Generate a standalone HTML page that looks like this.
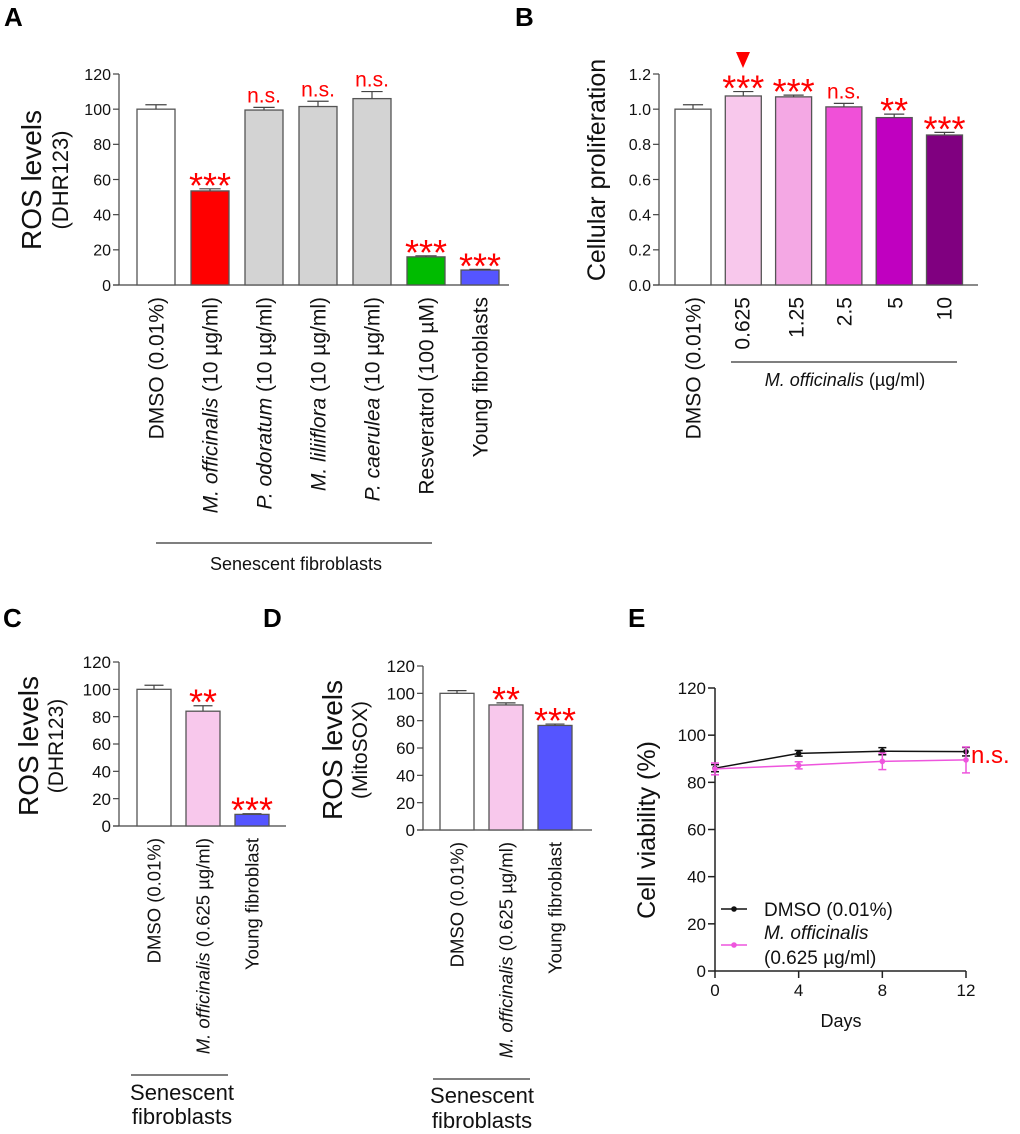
<!DOCTYPE html>
<html><head><meta charset="utf-8">
<style>
html,body{margin:0;padding:0;background:#fff;}
svg{display:block;font-family:"Liberation Sans",Arial,sans-serif;}
</style></head>
<body>
<svg id="fig" width="1020" height="1134" viewBox="0 0 1020 1134">
<g id="root"></g>
</svg>
<script>
// ---------- DATA ----------
const aValues=[100,53.5,99.5,101.5,106,16,8.5];
const aErrors=[2.5,1.2,1.5,3,4,0.6,0.4];
const aColors=["#ffffff","#ff0000","#d3d3d3","#d3d3d3","#d3d3d3","#00bb00","#5555ff"];
const aSig=["","***","n.s.","n.s.","n.s.","***","***"];
const aCats=["DMSO (0.01%)","<i>M. officinalis</i> (10 µg/ml)","<i>P. odoratum</i> (10 µg/ml)","<i>M. liliiflora</i> (10 µg/ml)","<i>P. caerulea</i> (10 µg/ml)","Resveratrol (100 µM)","Young fibroblasts"];
const aTicks=[0,20,40,60,80,100,120];

const bValues=[1.0,1.075,1.07,1.013,0.952,0.853];
const bErrors=[0.025,0.025,0.01,0.02,0.02,0.015];
const bColors=["#ffffff","#f8c8ec","#f4a8e4","#f050d8","#c000c0","#800080"];
const bSig=["","***","***","n.s.","**","***"];
const bCats=["DMSO (0.01%)","0.625","1.25","2.5","5","10"];
const bTicks=[0,0.2,0.4,0.6,0.8,1.0,1.2];

const cValues=[100,84,8.5];
const cErrors=[3,4,0.5];
const cColors=["#ffffff","#f8c8ec","#5555ff"];
const cSig=["","**","***"];
const cCats=["DMSO (0.01%)","<i>M. officinalis</i> (0.625 µg/ml)","Young fibroblast"];

const dValues=[100,91.5,76.5];
const dErrors=[2,1.5,1];
const dColors=["#ffffff","#f8c8ec","#5555ff"];
const dSig=["","**","***"];
const dCats=["DMSO (0.01%)","<i>M. officinalis</i> (0.625 µg/ml)","Young fibroblast"];
const cdTicks=[0,20,40,60,80,100,120];

const eDays=[0,4,8,12];
const eDmso=[86,92.3,93.2,93];
const eDmsoErr=[1.5,1.2,1.5,1.8];
const eMoff=[85.7,87.2,88.9,89.5];
const eMoffErr=[2.5,1.5,3.5,5.5];
const eTicksY=[0,20,40,60,80,100,120];
const eTicksX=[0,4,8,12];

// ---------- HELPERS ----------
const NS="http://www.w3.org/2000/svg";
const root=document.getElementById('root');
function mk(tag,attrs,parent){const e=document.createElementNS(NS,tag);for(const k in attrs)e.setAttribute(k,attrs[k]);(parent||root).appendChild(e);return e;}
function txt(str,attrs,parent){const e=mk('text',attrs,parent);e.innerHTML=str.replace(/<i>/g,'<tspan font-style="italic">').replace(/<\/i>/g,'</tspan>');return e;}

function barChart(o){
  const g=mk('g',{});
  
  
  const y=v=>o.y0-(v-o.ymin)/(o.ymax-o.ymin)*(o.y0-o.ytop);
  const x=i=>o.x1+i*o.step;
  const ya=mk('line',{x1:o.ax,y1:o.y0,x2:o.ax,y2:o.ytop,stroke:'#444','stroke-width':1.2},g);
  
  const xa=mk('line',{x1:o.ax-6,y1:o.y0,x2:o.axEnd,y2:o.y0,stroke:'#444','stroke-width':1.2},g);
  
  o.ticks.forEach(t=>{
    mk('line',{x1:o.ax-6,y1:y(t),x2:o.ax,y2:y(t),stroke:'#444','stroke-width':1.2},g);
    const tl=txt(o.fmt(t),{x:o.ax-8,y:y(t)+o.tickFs*0.36,'text-anchor':'end','font-size':o.tickFs,fill:'#111'},g);
    
  });
  o.values.forEach((v,i)=>{
    const cx=x(i);
    const r=mk('rect',{x:cx-o.bw/2,y:y(v),width:o.bw,height:o.y0-y(v),fill:o.colors[i],stroke:'#555','stroke-width':1.3},g);
    
    const et=y(v+o.errors[i]);
    mk('line',{x1:cx,y1:y(v),x2:cx,y2:et,stroke:'#444','stroke-width':1.2},g);
    mk('line',{x1:cx-o.bw*0.28,y1:et,x2:cx+o.bw*0.28,y2:et,stroke:'#444','stroke-width':1.2},g);
    if(o.sig[i]){
      const isStar=o.sig[i].indexOf('*')>=0;
      const s=txt(o.sig[i],{x:cx,y:isStar?et+9:et-5,'text-anchor':'middle','font-size':isStar?36:o.sigFs,fill:'#ff0000'},g);
      
    }
    const lx=o.labelX?o.labelX[i]:cx;
    const c=txt(o.cats[i],{x:0,y:0,'text-anchor':'end','font-size':o.catFs,fill:'#111',transform:`translate(${lx+o.catFs*0.36},${o.catTop}) rotate(-90)`},g);
    
  });
  return g;
}
function panelLetter(l,x,y){const t=txt(l,{x:x,y:y,'font-size':26,'font-weight':'bold',fill:'#000'});}
function ylab(lines,x,cy,sizes){lines.forEach((s,i)=>{const t=txt(s,{x:0,y:0,'text-anchor':'middle','font-size':sizes[i],fill:'#111',transform:`translate(${x[i]},${cy}) rotate(-90)`});});}

// ---------- PANEL A ----------
panelLetter('A',4,26);
barChart({name:'panel-a-chart',values:aValues,errors:aErrors,colors:aColors,sig:aSig,cats:aCats,ticks:aTicks,fmt:t=>String(t),
  ymin:0,ymax:120,y0:285,ytop:74,ax:119,axEnd:509,x1:156,step:54,bw:38,tickFs:16,sigFs:21,catFs:21,catTop:297});
ylab(['ROS levels','(DHR123)'],[41,68],180,[28,22]);
mk('line',{x1:156,y1:543,x2:432,y2:543,stroke:'#333','stroke-width':1.2});
txt('Senescent fibroblasts',{x:296,y:570,'text-anchor':'middle','font-size':18,fill:'#111'});

// ---------- PANEL B ----------
panelLetter('B',515,26);
barChart({name:'panel-b-chart',values:bValues,errors:bErrors,colors:bColors,sig:bSig,cats:bCats,ticks:bTicks,fmt:t=>t.toFixed(1),
  ymin:0,ymax:1.2,y0:285,ytop:74,ax:659,axEnd:978,x1:693,step:50.3,bw:36,tickFs:16,sigFs:21,catFs:21,catTop:297,labelX:[693,742,796,844,895,944]});
ylab(['Cellular proliferation'],[605],170,[25]);
const tri=mk('polygon',{points:'736,52 750,52 743,68',fill:'#ff0000'});

mk('line',{x1:731,y1:362,x2:957,y2:362,stroke:'#333','stroke-width':1.2});
txt('<i>M. officinalis</i> (µg/ml)',{x:845,y:386,'text-anchor':'middle','font-size':18,fill:'#111'});

// ---------- PANEL C ----------
panelLetter('C',3,627);
barChart({name:'panel-c-chart',values:cValues,errors:cErrors,colors:cColors,sig:cSig,cats:cCats,ticks:cdTicks,fmt:t=>String(t),
  ymin:0,ymax:120,y0:826,ytop:662,ax:119,axEnd:286,x1:154,step:49,bw:34,tickFs:17,sigFs:21,catFs:18.5,catTop:838});
ylab(['ROS levels','(DHR123)'],[38,63],746,[28,21]);
mk('line',{x1:131,y1:1075,x2:228,y2:1075,stroke:'#333','stroke-width':1.2});
txt('Senescent',{x:182,y:1100,'text-anchor':'middle','font-size':22,fill:'#111'});
txt('fibroblasts',{x:182,y:1124,'text-anchor':'middle','font-size':22,fill:'#111'});

// ---------- PANEL D ----------
panelLetter('D',263,627);
barChart({name:'panel-d-chart',values:dValues,errors:dErrors,colors:dColors,sig:dSig,cats:dCats,ticks:cdTicks,fmt:t=>String(t),
  ymin:0,ymax:120,y0:830,ytop:666,ax:423,axEnd:592,x1:457,step:49,bw:34,tickFs:17,sigFs:21,catFs:18.5,catTop:842});
ylab(['ROS levels','(MitoSOX)'],[342,367],750,[28,21]);
mk('line',{x1:433,y1:1079,x2:530,y2:1079,stroke:'#333','stroke-width':1.2});
txt('Senescent',{x:482,y:1103,'text-anchor':'middle','font-size':22,fill:'#111'});
txt('fibroblasts',{x:482,y:1128,'text-anchor':'middle','font-size':22,fill:'#111'});

// ---------- PANEL E ----------
panelLetter('E',628,627);
(function(){
  const g=mk('g',{});
  
  
  const ax=715,x12=966,y0=971,ytop=688;
  const X=d=>ax+d/12*(x12-ax);
  const Y=v=>y0-v/120*(y0-ytop);
  mk('line',{x1:ax,y1:y0,x2:ax,y2:ytop,stroke:'#222','stroke-width':1.5},g);
  mk('line',{x1:ax,y1:y0,x2:x12,y2:y0,stroke:'#222','stroke-width':1.5},g);
  eTicksY.forEach(t=>{mk('line',{x1:ax-7,y1:Y(t),x2:ax,y2:Y(t),stroke:'#222','stroke-width':1.5},g);
    const l=txt(String(t),{x:ax-9,y:Y(t)+6,'text-anchor':'end','font-size':17,fill:'#111'},g);
    });
  eTicksX.forEach(t=>{mk('line',{x1:X(t),y1:y0,x2:X(t),y2:y0+7,stroke:'#222','stroke-width':1.5},g);
    const l=txt(String(t),{x:X(t),y:y0+25,'text-anchor':'middle','font-size':17,fill:'#111'},g);
    });
  function series(vals,errs,col,name){
    const p=mk('polyline',{points:vals.map((v,i)=>X(eDays[i])+','+Y(v)).join(' '),fill:'none',stroke:col,'stroke-width':1.5},g);
    
    vals.forEach((v,i)=>{const cx=X(eDays[i]);
      mk('line',{x1:cx,y1:Y(v-errs[i]),x2:cx,y2:Y(v+errs[i]),stroke:col,'stroke-width':1.5},g);
      mk('line',{x1:cx-4,y1:Y(v-errs[i]),x2:cx+4,y2:Y(v-errs[i]),stroke:col,'stroke-width':1.5},g);
      mk('line',{x1:cx-4,y1:Y(v+errs[i]),x2:cx+4,y2:Y(v+errs[i]),stroke:col,'stroke-width':1.5},g);
      const c=mk('circle',{cx:cx,cy:Y(v),r:2.8,fill:col},g);
      });
  }
  series(eDmso,eDmsoErr,'#111','dmso');
  series(eMoff,eMoffErr,'#ee55dd','m-officinalis');
  const ns=txt('n.s.',{x:971,y:763,'font-size':24,fill:'#ff0000'},g);
  
  ylab(['Cell viability (%)'],[655],830,[25]);
  txt('Days',{x:841,y:1027,'text-anchor':'middle','font-size':18,fill:'#111'},g);
  const lg=mk('g',{},g);
  
  
  mk('line',{x1:721,y1:909,x2:747,y2:909,stroke:'#111','stroke-width':1.5},lg);
  mk('circle',{cx:734,cy:909,r:2.8,fill:'#111'},lg);
  txt('DMSO (0.01%)',{x:764,y:916,'font-size':19,fill:'#111'},lg);
  mk('line',{x1:721,y1:945,x2:747,y2:945,stroke:'#ee55dd','stroke-width':1.5},lg);
  mk('circle',{cx:734,cy:945,r:2.8,fill:'#ee55dd'},lg);
  txt('<i>M. officinalis</i>',{x:764,y:939,'font-size':19,fill:'#111'},lg);
  txt('(0.625 µg/ml)',{x:764,y:964,'font-size':19,fill:'#111'},lg);
})();
</script>
</body></html>
